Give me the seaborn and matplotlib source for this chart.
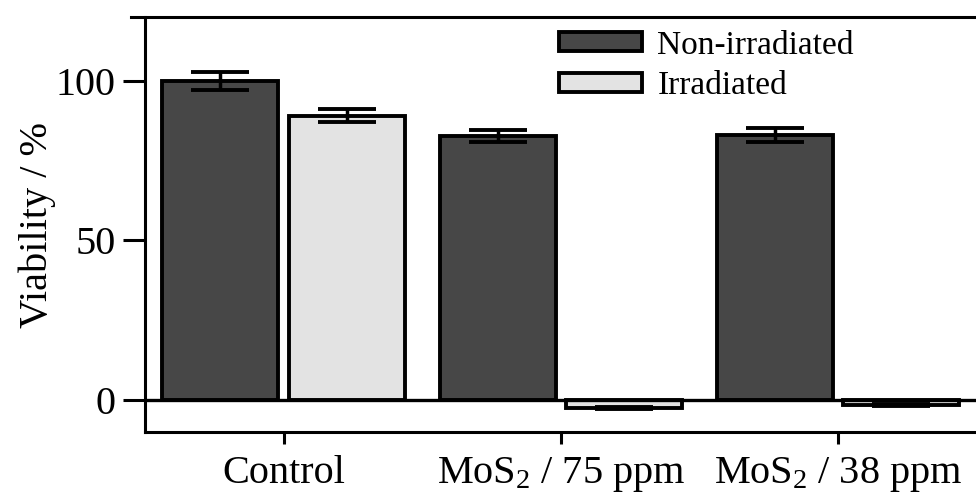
import numpy as np
import pandas as pd
import matplotlib
matplotlib.use("Agg")
import matplotlib.pyplot as plt
import seaborn as sns

# values
groups = ["Control", "MoS$_\\mathrm{2}$ / 75 ppm", "MoS$_\\mathrm{2}$ / 38 ppm"]
conditions = ["Non-irradiated", "Irradiated"]
non_irr = [100.0, 82.7, 83.1]
non_irr_err = [2.9, 2.0, 2.1]
irr = [89.1, -2.5, -1.6]
irr_err = [2.0, 0.3, 0.3]
yticks = [0, 50, 100]

sns.set_style("ticks")
plt.rcParams['font.family'] = ['Liberation Serif', 'DejaVu Serif']
plt.rcParams['mathtext.fontset'] = 'custom'
plt.rcParams['mathtext.rm'] = 'Liberation Serif'
plt.rcParams['mathtext.it'] = 'Liberation Serif:italic'
plt.rcParams['text.color'] = 'black'
plt.rcParams['axes.labelcolor'] = 'black'
plt.rcParams['xtick.color'] = 'black'
plt.rcParams['ytick.color'] = 'black'

df = pd.DataFrame({
    "group": groups * 2,
    "condition": [conditions[0]] * 3 + [conditions[1]] * 3,
    "viability": non_irr + irr,
})

fig = plt.figure(figsize=(9.76, 5), dpi=100)
ax = fig.add_axes([145/976, 68/500, 831.75/976, 415/500])

sns.barplot(data=df, x="group", y="viability", hue="condition",
            palette=["#474747", "#e3e3e3"], edgecolor="black", linewidth=2.8,
            width=0.912, gap=0.083, errorbar=None, legend=False, ax=ax)

errs = [non_irr_err, irr_err]
for cont, err in zip(ax.containers, errs):
    xs = [b.get_x() + b.get_width()/2 for b in cont]
    ys = [b.get_height() for b in cont]
    ax.errorbar(xs, ys, yerr=err, fmt='none', ecolor='black',
                elinewidth=2.5, capsize=21, capthick=2.8, zorder=5)

ax.axhline(0, color='black', lw=2.4, zorder=4)

ax.set_xlim(-0.5, 2.5)
ax.set_ylim(-10, 120)
ax.set_yticks(yticks)
ax.set_xlabel("")
ax.set_ylabel("Viability / %", fontsize=29, labelpad=0)
ax.tick_params(axis='y', length=16, width=2.2, labelsize=29, pad=5)
ax.tick_params(axis='x', length=8.5, width=2.2, labelsize=29, pad=8)
for s in ['left', 'bottom', 'top']:
    ax.spines[s].set_linewidth(2.2)
    ax.spines[s].set_color('black')
ax.spines['right'].set_visible(False)
ax.spines['top'].set_bounds(-0.55, 2.5)

ax.legend(ax.containers, conditions, loc='upper left',
          bbox_to_anchor=(559/976, 1 - 30/500), bbox_transform=fig.transFigure,
          frameon=False, fontsize=24, handlelength=2.5, handleheight=0.5,
          handletextpad=0.45, labelspacing=0.3, borderpad=0, borderaxespad=0)

fig.savefig("out.png", dpi=100)
